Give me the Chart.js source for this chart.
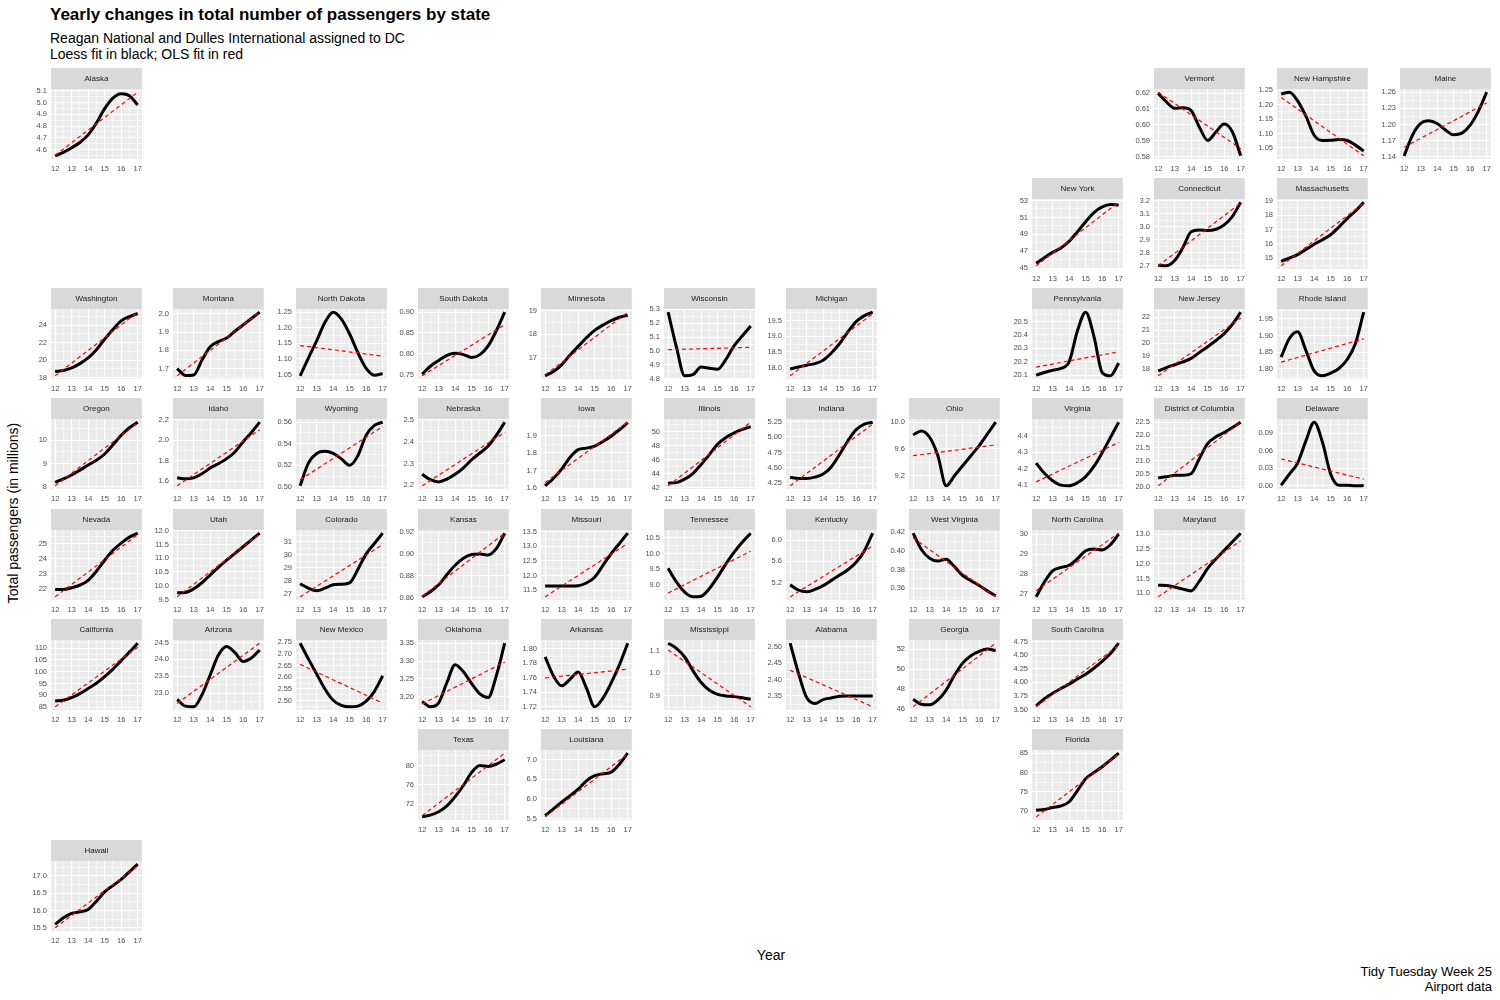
<!DOCTYPE html>
<html>
<head>
<meta charset="utf-8">
<script src="https://cdn.jsdelivr.net/npm/chart.js@4.4.0/dist/chart.umd.min.js"></script>
<style>
  body { margin: 0; background: #fff; width: 1500px; height: 1000px; position: relative; overflow: hidden;
         font-family: "Liberation Sans", Arial, Helvetica, sans-serif; }
  .txt { position: absolute; white-space: nowrap; color: #000; }
  canvas { position: absolute; }
</style>
</head>
<body>
<div class="txt" style="left:50px;top:6px;font-size:17px;line-height:17px;font-weight:bold">Yearly changes in total number of passengers by state</div>
<div class="txt" style="left:50px;top:31px;font-size:14px;line-height:14px">Reagan National and Dulles International assigned to DC</div>
<div class="txt" style="left:50px;top:47px;font-size:14px;line-height:14px">Loess fit in black; OLS fit in red</div>
<div class="txt" style="left:13px;top:513px;font-size:14px;line-height:14px;transform:translate(-50%,-50%) rotate(-90deg)">Total passengers (in millions)</div>
<div class="txt" style="left:771px;top:948px;font-size:14px;line-height:14px;transform:translateX(-50%)">Year</div>
<div class="txt" style="right:8px;top:964px;font-size:13px;line-height:15px;text-align:right">Tidy Tuesday Week 25<br>Airport data</div>

<script>
// x positions of the fitted values (years 2012-2017, half-year steps)
const years = [12, 12.5, 13, 13.5, 14, 14.5, 15, 15.5, 16, 16.5, 17];
const olsYears = [12, 17];
const yearTicks = [12, 13, 14, 15, 16, 17];

const states = [
  'Alaska', 'Vermont', 'New Hampshire', 'Maine',
  'New York', 'Connecticut', 'Massachusetts',
  'Washington', 'Montana', 'North Dakota', 'South Dakota', 'Minnesota', 'Wisconsin', 'Michigan',
  'Pennsylvania', 'New Jersey', 'Rhode Island',
  'Oregon', 'Idaho', 'Wyoming', 'Nebraska', 'Iowa', 'Illinois', 'Indiana', 'Ohio', 'Virginia',
  'District of Columbia', 'Delaware',
  'Nevada', 'Utah', 'Colorado', 'Kansas', 'Missouri', 'Tennessee', 'Kentucky', 'West Virginia',
  'North Carolina', 'Maryland',
  'California', 'Arizona', 'New Mexico', 'Oklahoma', 'Arkansas', 'Mississippi', 'Alabama', 'Georgia',
  'South Carolina',
  'Texas', 'Louisiana', 'Florida',
  'Hawaii'
];

// loess fit, millions of passengers, at each entry of `years`
const loessFit = [
  [4.546, 4.575, 4.615, 4.66, 4.725, 4.826, 4.95, 5.04, 5.077, 5.06, 4.98],
  [0.62, 0.6145, 0.6105, 0.6108, 0.609, 0.5985, 0.5902, 0.5955, 0.6005, 0.5955, 0.5805],
  [1.237, 1.243, 1.213, 1.16, 1.094, 1.076, 1.077, 1.079, 1.076, 1.06, 1.04],
  [1.142, 1.18, 1.202, 1.207, 1.202, 1.19, 1.181, 1.184, 1.199, 1.225, 1.26],
  [45.6, 46.25, 46.88, 47.4, 48.2, 49.3, 50.5, 51.57, 52.24, 52.54, 52.46],
  [2.705, 2.70, 2.74, 2.84, 2.96, 2.974, 2.97, 2.98, 3.013, 3.078, 3.187],
  [14.79, 15.02, 15.26, 15.62, 15.98, 16.29, 16.64, 17.17, 17.76, 18.29, 18.9],
  [18.7, 18.8, 19.1, 19.6, 20.25, 21.2, 22.4, 23.5, 24.5, 25.0, 25.35],
  [1.70, 1.662, 1.665, 1.745, 1.82, 1.848, 1.868, 1.905, 1.94, 1.975, 2.01],
  [1.046, 1.103, 1.158, 1.217, 1.25, 1.228, 1.18, 1.12, 1.07, 1.048, 1.053],
  [0.751, 0.77, 0.784, 0.796, 0.801, 0.798, 0.791, 0.798, 0.819, 0.856, 0.90],
  [16.27, 16.45, 16.73, 17.13, 17.5, 17.86, 18.17, 18.39, 18.58, 18.72, 18.8],
  [5.28, 5.03, 4.822, 4.83, 4.885, 4.876, 4.87, 4.94, 5.04, 5.11, 5.18],
  [17.96, 18.02, 18.08, 18.13, 18.24, 18.47, 18.77, 19.14, 19.47, 19.66, 19.77],
  [20.1, 20.12, 20.137, 20.15, 20.2, 20.43, 20.57, 20.39, 20.12, 20.095, 20.19],
  [17.84, 18.1, 18.32, 18.54, 18.81, 19.27, 19.72, 20.2, 20.74, 21.46, 22.4],
  [1.835, 1.891, 1.911, 1.855, 1.794, 1.779, 1.787, 1.801, 1.828, 1.876, 1.97],
  [8.18, 8.33, 8.5, 8.71, 8.93, 9.14, 9.41, 9.81, 10.22, 10.55, 10.79],
  [1.633, 1.623, 1.633, 1.672, 1.728, 1.77, 1.82, 1.885, 1.985, 2.075, 2.175],
  [0.501, 0.522, 0.531, 0.533, 0.531, 0.526, 0.52, 0.529, 0.548, 0.557, 0.56],
  [2.25, 2.225, 2.215, 2.228, 2.25, 2.28, 2.317, 2.348, 2.38, 2.43, 2.49],
  [1.613, 1.655, 1.708, 1.775, 1.82, 1.828, 1.84, 1.866, 1.896, 1.933, 1.973],
  [42.62, 42.7, 43.2, 44.0, 45.3, 46.7, 48.2, 49.15, 49.8, 50.3, 50.7],
  [4.35, 4.33, 4.33, 4.35, 4.40, 4.52, 4.72, 4.94, 5.12, 5.21, 5.24],
  [9.81, 9.87, 9.775, 9.5, 9.05, 9.2, 9.35, 9.5, 9.65, 9.825, 10.0],
  [4.234, 4.172, 4.127, 4.10, 4.096, 4.115, 4.152, 4.214, 4.297, 4.39, 4.483],
  [20.34, 20.38, 20.44, 20.44, 20.5, 21.09, 21.67, 21.93, 22.1, 22.29, 22.5],
  [0.001, 0.02, 0.039, 0.077, 0.109, 0.075, 0.02, 0.001, 0.001, 0.0, 0.0005],
  [21.96, 21.96, 22.07, 22.24, 22.57, 23.17, 23.9, 24.56, 25.04, 25.44, 25.7],
  [9.75, 9.76, 9.89, 10.11, 10.39, 10.67, 10.93, 11.18, 11.42, 11.67, 11.91],
  [27.79, 27.45, 27.26, 27.45, 27.71, 27.75, 27.85, 28.9, 30.08, 30.87, 31.66],
  [0.8606, 0.8653, 0.8716, 0.881, 0.8896, 0.896, 0.8994, 0.90, 0.899, 0.905, 0.919],
  [11.65, 11.65, 11.65, 11.65, 11.66, 11.75, 11.95, 12.35, 12.75, 13.1, 13.45],
  [9.53, 9.1, 8.78, 8.63, 8.65, 8.89, 9.26, 9.67, 10.04, 10.36, 10.64],
  [5.155, 5.057, 5.025, 5.07, 5.14, 5.24, 5.34, 5.44, 5.58, 5.8, 6.13],
  [0.419, 0.4015, 0.392, 0.389, 0.391, 0.383, 0.3735, 0.368, 0.3628, 0.357, 0.3517],
  [26.86, 27.6, 28.16, 28.33, 28.44, 28.77, 29.17, 29.26, 29.21, 29.47, 30.0],
  [11.27, 11.26, 11.21, 11.14, 11.08, 11.41, 11.84, 12.16, 12.45, 12.74, 13.03],
  [87.6, 87.9, 89.0, 90.7, 92.9, 95.1, 97.9, 101.1, 104.7, 108.3, 112.1],
  [22.82, 22.62, 22.6, 22.95, 23.54, 24.13, 24.38, 24.2, 23.94, 24.04, 24.28],
  [2.745, 2.678, 2.614, 2.55, 2.502, 2.48, 2.474, 2.477, 2.498, 2.54, 2.606],
  [3.187, 3.172, 3.183, 3.24, 3.29, 3.27, 3.237, 3.208, 3.198, 3.26, 3.35],
  [1.789, 1.763, 1.749, 1.758, 1.768, 1.746, 1.72, 1.732, 1.753, 1.778, 1.808],
  [1.133, 1.11, 1.072, 1.012, 0.959, 0.925, 0.907, 0.90, 0.897, 0.892, 0.885],
  [2.51, 2.42, 2.345, 2.327, 2.339, 2.344, 2.349, 2.35, 2.35, 2.35, 2.35],
  [46.98, 46.49, 46.43, 46.92, 47.9, 49.38, 50.6, 51.34, 51.77, 52.0, 51.84],
  [3.57, 3.70, 3.80, 3.886, 3.967, 4.06, 4.15, 4.26, 4.385, 4.53, 4.72],
  [69.45, 69.8, 70.5, 71.7, 73.6, 75.9, 78.6, 80.0, 79.8, 80.3, 81.2],
  [5.58, 5.75, 5.92, 6.08, 6.25, 6.46, 6.59, 6.64, 6.68, 6.88, 7.16],
  [70.2, 70.4, 70.9, 71.3, 72.4, 75.3, 78.4, 80.0, 81.5, 83.2, 85.0],
  [15.6, 15.79, 15.92, 15.96, 16.03, 16.27, 16.54, 16.72, 16.9, 17.12, 17.34]
];

// OLS line, value at 2012 and at 2017
const olsFit = [
  [4.55, 5.09], [0.6206, 0.585], [1.225, 1.023], [1.158, 1.24],
  [45.3, 52.8], [2.70, 3.18], [14.48, 18.83],
  [18.2, 25.5], [1.66, 2.01], [1.143, 1.109], [0.747, 0.87], [16.31, 18.93], [5.01, 5.027], [17.74, 19.72],
  [20.16, 20.275], [17.46, 21.95], [1.82, 1.89],
  [8.03, 10.76], [1.555, 2.10], [0.5066, 0.556], [2.197, 2.443], [1.632, 1.976], [42.24, 51.34], [4.21, 5.21],
  [9.5, 9.66], [4.12, 4.36], [20.03, 22.5], [0.046, 0.0115],
  [21.47, 25.6], [9.6, 11.88], [26.79, 30.79], [0.8612, 0.919], [11.28, 13.1], [8.75, 10.07], [4.93, 5.89],
  [0.414, 0.3506], [27.17, 30.05], [10.88, 12.77],
  [85.1, 110.4], [22.7, 24.48], [2.655, 2.49], [3.18, 3.297], [1.76, 1.772], [1.103, 0.852], [2.428, 2.317],
  [46.23, 52.59], [3.55, 4.68],
  [69.7, 82.55], [5.55, 7.14], [68.5, 84.7],
  [15.5, 17.29]
];

// labelled y ticks of each panel
const yTicks = [
  [4.6, 4.7, 4.8, 4.9, 5.0, 5.1], [0.58, 0.59, 0.60, 0.61, 0.62], [1.05, 1.10, 1.15, 1.20, 1.25], [1.14, 1.17, 1.20, 1.23, 1.26],
  [45, 47, 49, 51, 53], [2.7, 2.8, 2.9, 3.0, 3.1, 3.2], [15, 16, 17, 18, 19],
  [18, 20, 22, 24], [1.7, 1.8, 1.9, 2.0], [1.05, 1.10, 1.15, 1.20, 1.25], [0.75, 0.80, 0.85, 0.90], [17, 18, 19],
  [4.8, 4.9, 5.0, 5.1, 5.2, 5.3], [18.0, 18.5, 19.0, 19.5],
  [20.1, 20.2, 20.3, 20.4, 20.5], [18, 19, 20, 21, 22], [1.80, 1.85, 1.90, 1.95],
  [8, 9, 10], [1.6, 1.8, 2.0, 2.2], [0.50, 0.52, 0.54, 0.56], [2.2, 2.3, 2.4, 2.5], [1.6, 1.7, 1.8, 1.9],
  [42, 44, 46, 48, 50], [4.25, 4.50, 4.75, 5.00, 5.25], [9.2, 9.6, 10.0], [4.1, 4.2, 4.3, 4.4],
  [20.0, 20.5, 21.0, 21.5, 22.0, 22.5], [0.00, 0.03, 0.06, 0.09],
  [22, 23, 24, 25], [9.5, 10.0, 10.5, 11.0, 11.5, 12.0], [27, 28, 29, 30, 31], [0.86, 0.88, 0.90, 0.92],
  [11.5, 12.0, 12.5, 13.0, 13.5], [8.5, 9.0, 9.5, 10.0, 10.5], [5.2, 5.6, 6.0], [0.36, 0.38, 0.40, 0.42],
  [27, 28, 29, 30], [11.0, 11.5, 12.0, 12.5, 13.0],
  [85, 90, 95, 100, 105, 110], [22.5, 23.0, 23.5, 24.0, 24.5], [2.50, 2.55, 2.60, 2.65, 2.70, 2.75],
  [3.20, 3.25, 3.30, 3.35], [1.72, 1.74, 1.76, 1.78, 1.80], [0.9, 1.0, 1.1], [2.35, 2.40, 2.45, 2.50],
  [46, 48, 50, 52], [3.50, 3.75, 4.00, 4.25, 4.50, 4.75],
  [72, 76, 80], [5.5, 6.0, 6.5, 7.0], [70, 75, 80, 85],
  [15.5, 16.0, 16.5, 17.0]
];

// layout: [row, column] of each state in the map grid
const gridPos = [
  [0, 0], [0, 9], [0, 10], [0, 11],
  [1, 8], [1, 9], [1, 10],
  [2, 0], [2, 1], [2, 2], [2, 3], [2, 4], [2, 5], [2, 6], [2, 8], [2, 9], [2, 10],
  [3, 0], [3, 1], [3, 2], [3, 3], [3, 4], [3, 5], [3, 6], [3, 7], [3, 8], [3, 9], [3, 10],
  [4, 0], [4, 1], [4, 2], [4, 3], [4, 4], [4, 5], [4, 6], [4, 7], [4, 8], [4, 9],
  [5, 0], [5, 1], [5, 2], [5, 3], [5, 4], [5, 5], [5, 6], [5, 7], [5, 8],
  [6, 3], [6, 4], [6, 8],
  [7, 0]
];

const COL0 = 50.5, COL_STEP = 122.64, ROW0 = 67.5, ROW_STEP = 110.33;
const AXIS_W = 32, STRIP_H = 21, PANEL_W = 93, PANEL_H = 70, XAXIS_H = 17;
const FONT = '"Liberation Sans", Arial, Helvetica, sans-serif';

function decimalsOf(step) {
  let d = 0;
  while (d < 4 && Math.abs(Math.round(step * Math.pow(10, d)) - step * Math.pow(10, d)) > 1e-6) d++;
  return d;
}

// majors plus ggplot-style minor breaks halfway between them
function withMinor(major, lo, hi) {
  const step = major[1] - major[0];
  const all = [];
  for (let k = -1; k < major.length; k++) {
    const m = k < 0 ? major[0] - step : major[k];
    if (k >= 0) all.push(m);
    all.push(m + step / 2);
  }
  return all.filter(v => v >= lo - 1e-9 && v <= hi + 1e-9).sort((a, b) => a - b);
}

const panelPlugin = {
  id: 'panel',
  beforeDraw(chart, args, opts) {
    const { ctx, chartArea: a } = chart;
    ctx.save();
    ctx.fillStyle = '#EBEBEB';
    ctx.fillRect(a.left, a.top, a.right - a.left, a.bottom - a.top);
    ctx.fillStyle = '#D9D9D9';
    ctx.fillRect(a.left, 0, a.right - a.left, a.top);
    ctx.fillStyle = '#1A1A1A';
    ctx.font = '8px ' + FONT;
    ctx.textAlign = 'center';
    ctx.textBaseline = 'middle';
    ctx.fillText(opts.title, (a.left + a.right) / 2, a.top / 2 + 0.5);
    ctx.restore();
  }
};

const isIn = (v, list) => list.some(t => Math.abs(t - v) < 1e-9);

states.forEach((name, i) => {
  const [row, col] = gridPos[i];
  const canvas = document.createElement('canvas');
  canvas.width = AXIS_W + PANEL_W + 3;
  canvas.height = STRIP_H + PANEL_H + XAXIS_H;
  canvas.style.left = Math.round(COL0 + COL_STEP * col - AXIS_W) + 'px';
  canvas.style.top = Math.round(ROW0 + ROW_STEP * row) + 'px';
  document.body.appendChild(canvas);

  const vals = loessFit[i].concat(olsFit[i]);
  const lo = Math.min(...vals), hi = Math.max(...vals);
  const pad = (hi - lo) * 0.05;
  const yMin = lo - pad, yMax = hi + pad;
  const majors = yTicks[i];
  const dec = decimalsOf(majors[1] - majors[0]);
  const yGrid = withMinor(majors, yMin, yMax);
  const xGrid = withMinor(yearTicks, 11.75, 17.25);

  const tickFont = { family: FONT, size: 7.5 };

  new Chart(canvas, {
    type: 'line',
    data: {
      datasets: [
        {
          label: 'OLS',
          data: olsYears.map((x, k) => ({ x, y: olsFit[i][k] })),
          borderColor: '#FF0000',
          borderWidth: 1.2,
          borderDash: [4, 3],
          pointRadius: 0,
          order: 0
        },
        {
          label: 'Loess',
          data: years.map((x, k) => ({ x, y: loessFit[i][k] })),
          borderColor: '#000000',
          borderWidth: 3,
          pointRadius: 0,
          cubicInterpolationMode: 'monotone',
          order: 1
        }
      ]
    },
    options: {
      responsive: false,
      animation: false,
      events: [],
      layout: { padding: { top: STRIP_H, right: 3, left: 0, bottom: 0 } },
      plugins: {
        legend: { display: false },
        tooltip: { enabled: false },
        panel: { title: name }
      },
      scales: {
        x: {
          type: 'linear',
          min: 11.75,
          max: 17.25,
          afterBuildTicks: s => { s.ticks = xGrid.map(v => ({ value: v })); },
          afterFit: s => { s.height = XAXIS_H; },
          border: { display: false },
          grid: {
            color: '#FFFFFF',
            drawTicks: false,
            lineWidth: c => (isIn(c.tick.value, yearTicks) ? 1.1 : 0.55)
          },
          ticks: {
            autoSkip: false,
            maxRotation: 0,
            padding: 5,
            color: '#4D4D4D',
            font: tickFont,
            callback: v => (isIn(v, yearTicks) ? String(v) : '')
          }
        },
        y: {
          type: 'linear',
          min: yMin,
          max: yMax,
          afterBuildTicks: s => { s.ticks = yGrid.map(v => ({ value: v })); },
          afterFit: s => { s.width = AXIS_W; },
          border: { display: false },
          grid: {
            color: '#FFFFFF',
            drawTicks: false,
            lineWidth: c => (isIn(c.tick.value, majors) ? 1.1 : 0.55)
          },
          ticks: {
            autoSkip: false,
            padding: 4,
            color: '#4D4D4D',
            font: tickFont,
            callback: v => (isIn(v, majors) ? v.toFixed(dec) : '')
          }
        }
      }
    },
    plugins: [panelPlugin]
  });
});
</script>
</body>
</html>
